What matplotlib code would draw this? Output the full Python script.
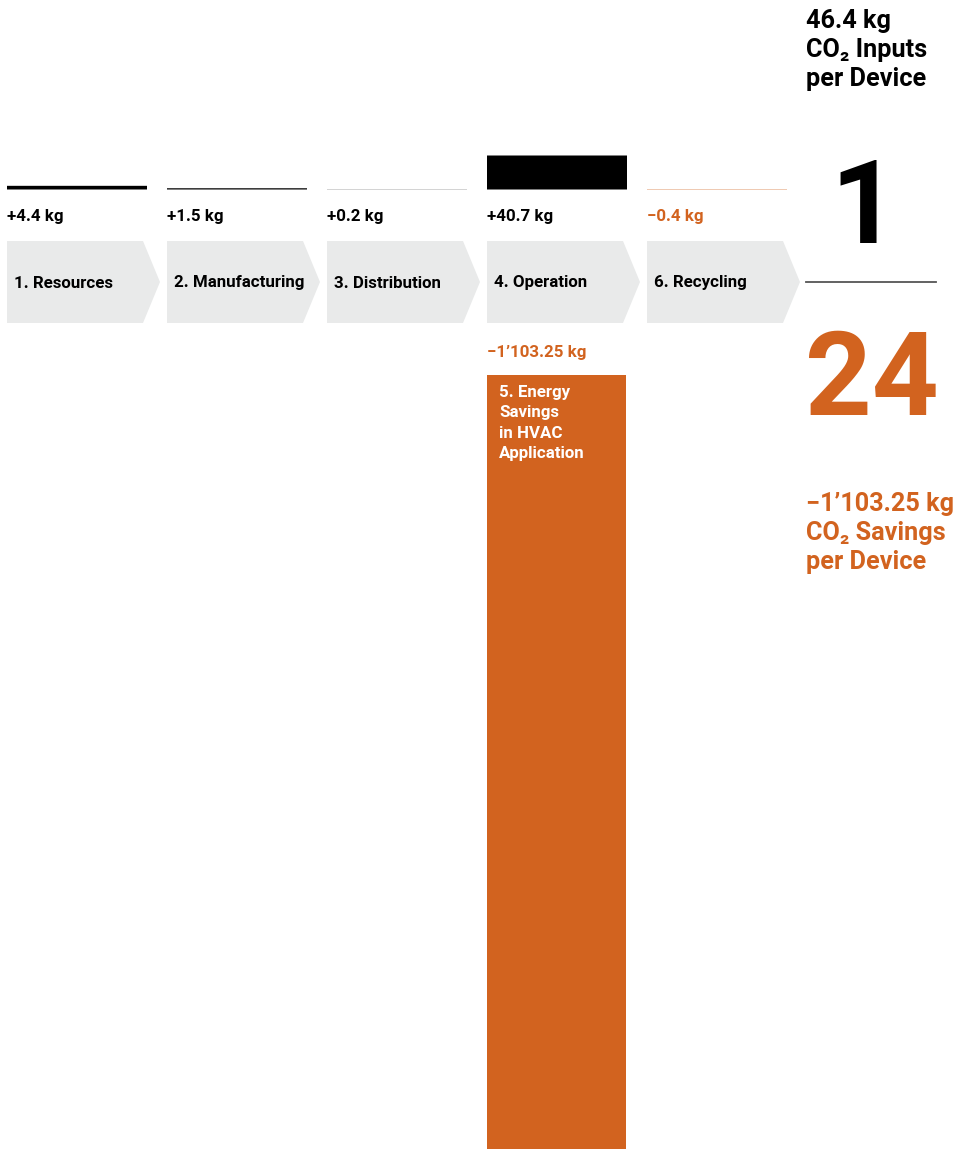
import matplotlib
matplotlib.use("Agg")
import matplotlib.pyplot as plt
from matplotlib.patches import Polygon

plt.rcParams["font.family"] = ["Roboto", "DejaVu Sans"]
plt.rcParams["font.weight"] = "bold"

W, H = 955, 1149
ORANGE, GREY, BLACK = "#d2631f", "#e9eaea", "#000000"

# lifecycle stages in the top row and their CO2 balance (kg per device)
stages = ["1. Resources", "2. Manufacturing", "3. Distribution", "4. Operation", "6. Recycling"]
stage_kg = [4.4, 1.5, 0.2, 40.7, -0.4]
stage_labels = ["+4.4 kg", "+1.5 kg", "+0.2 kg", "+40.7 kg", "\u22120.4 kg"]

# energy savings, shown below "4. Operation"
saving_stage = "5. Energy\nSavings\nin HVAC\nApplication"
saving_kg = -1103.25
saving_label = "\u22121\u2019103.25 kg"
saving_col = 3

total_inputs = "46.4 kg\nCO\u2082 Inputs\nper Device"
total_savings = "\u22121\u2019103.25 kg\nCO\u2082 Savings\nper Device"
ratio = ("1", "24")

PX_PER_KG = 34 / 40.7
X0, STEP, BAR_W = 7, 160, 140
BASE_Y, SAVE_TOP = 189.5, 375
FS = 12.2
FS_BIG = 18.2


def fy(y):
    return 1 - y / H


fig = plt.figure(figsize=(W / 100, H / 100), dpi=100)

# layout layer in pixel units for chevrons and text
lay = fig.add_axes([0, 0, 1, 1])
lay.set_xlim(0, W)
lay.set_ylim(H, 0)
lay.axis("off")

# bars above the chevrons: kg scale, baseline at BASE_Y
top_kg = 50
ax_top = fig.add_axes([0, fy(BASE_Y), 1, top_kg * PX_PER_KG / H])
ax_top.set_xlim(0, W)
ax_top.set_ylim(0, top_kg)
ax_top.axis("off")
xs = [X0 + STEP * i for i in range(len(stages))]
colors = [BLACK if v > 0 else ORANGE for v in stage_kg]
ax_top.bar(xs, [abs(v) for v in stage_kg], width=BAR_W, align="edge",
           color=colors, linewidth=0, snap=False)

# savings bar, same kg scale, runs off the bottom
ax_bot = fig.add_axes([0, 0, 1, fy(SAVE_TOP)])
ax_bot.set_xlim(0, W)
ax_bot.set_ylim(-(H - SAVE_TOP) / PX_PER_KG, 0)
ax_bot.axis("off")
ax_bot.bar([X0 + STEP * saving_col], [saving_kg], width=BAR_W - 1, align="edge",
           color=ORANGE, linewidth=0)
ax_bot.text(X0 + STEP * saving_col + 12, -10 / PX_PER_KG, saving_stage,
            color="white", fontsize=FS, va="top", ha="left", linespacing=1.45)

# chevrons with stage names and value labels
for x, name, lab, v in zip(xs, stages, stage_labels, stage_kg):
    lay.add_patch(Polygon([(x, 241), (x + 136, 241), (x + 153, 282),
                           (x + 136, 323), (x, 323)], closed=True,
                          facecolor=GREY, edgecolor="none"))
    lay.text(x + 7, 283, name, fontsize=FS, va="center", ha="left", color=BLACK)
    lay.text(x, 217, lab, fontsize=FS, va="center", ha="left",
             color=BLACK if v > 0 else ORANGE)

lay.text(X0 + STEP * saving_col, 353, saving_label, fontsize=FS,
         va="center", ha="left", color=ORANGE)

# summary column on the right
lay.text(806, 9, total_inputs, fontsize=FS_BIG, va="top", ha="left",
         color=BLACK, linespacing=1.27)
lay.text(864, 243, ratio[0], fontsize=84, va="baseline", ha="center", color=BLACK)
lay.plot([806, 936], [282, 282], color="#555555", linewidth=1.3)
lay.text(872, 415, ratio[1], fontsize=84, va="baseline", ha="center", color=ORANGE)
lay.text(806, 492, total_savings, fontsize=FS_BIG, va="top", ha="left",
         color=ORANGE, linespacing=1.27)

fig.savefig("out.png", dpi=100)
